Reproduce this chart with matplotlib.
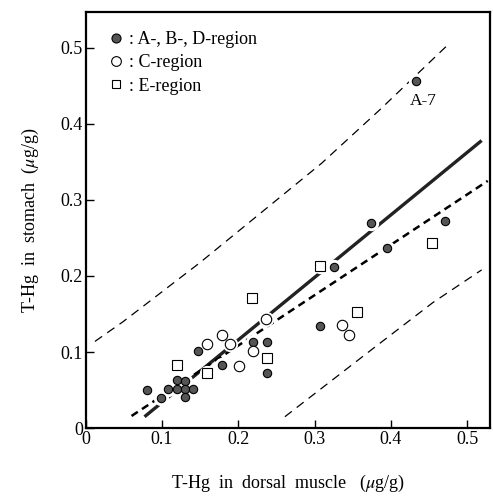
import matplotlib
matplotlib.use("Agg")
import matplotlib.pyplot as plt
from matplotlib.lines import Line2D

plt.rcParams['font.family'] = ['Liberation Serif', 'DejaVu Serif']
plt.rcParams['mathtext.fontset'] = 'stix'

# data (x = dorsal muscle, y = stomach, ug/g)
abd_x = [0.080, 0.099, 0.108, 0.119, 0.119, 0.130, 0.130, 0.130, 0.141, 0.147,
         0.179, 0.219, 0.238, 0.238, 0.307, 0.325, 0.374, 0.395, 0.471, 0.433]
abd_y = [0.050, 0.040, 0.051, 0.051, 0.063, 0.062, 0.052, 0.041, 0.052, 0.101,
         0.083, 0.113, 0.113, 0.073, 0.134, 0.212, 0.269, 0.237, 0.272, 0.456]
c_x = [0.159, 0.179, 0.189, 0.201, 0.219, 0.236, 0.336, 0.345]
c_y = [0.111, 0.122, 0.110, 0.082, 0.102, 0.143, 0.135, 0.123]
e_x = [0.119, 0.159, 0.218, 0.238, 0.307, 0.356, 0.454]
e_y = [0.083, 0.072, 0.171, 0.092, 0.213, 0.153, 0.243]

# regression lines (end points)
solid_x = [0.077, 0.519]
solid_y = [0.015, 0.378]
dash_x = [0.060, 0.527]
dash_y = [0.016, 0.325]
# band curves
up_x = [0.012, 0.049, 0.149, 0.309, 0.385, 0.477]
up_y = [0.114, 0.140, 0.217, 0.348, 0.418, 0.506]
lo_x = [0.261, 0.368, 0.455, 0.519]
lo_y = [0.015, 0.098, 0.165, 0.208]

fig = plt.figure(figsize=(4.93, 4.99), dpi=100)
ax = fig.add_axes([0.174, 0.142, 0.82, 0.834])

ax.plot(up_x, up_y, color='black', lw=0.9, dashes=(7, 5))
ax.plot(lo_x, lo_y, color='black', lw=0.9, dashes=(7, 5))
ax.plot(solid_x, solid_y, color='#222222', lw=2.4, solid_capstyle='butt')
ax.plot(dash_x, dash_y, color='black', lw=1.8, dashes=(3, 2))

# white halo so the lines break around the points
allx = abd_x + c_x + e_x
ally = abd_y + c_y + e_y
ax.plot(allx, ally, 'o', ms=10, color='white', mec='white', zorder=3)

ax.plot(abd_x, abd_y, 'o', ms=6, mfc='#555555', mec='black', mew=0.8, zorder=4)
ax.plot(c_x, c_y, 'o', ms=7.5, mfc='white', mec='black', mew=0.8, zorder=4)
ax.plot(e_x, e_y, 's', ms=6.5, mfc='white', mec='black', mew=0.8, zorder=4)

ax.text(0.442, 0.44, 'A-7', fontsize=12.5, va='top', ha='center')

handles = [
    Line2D([], [], ls='none', marker='o', ms=6.5, mfc='#555555', mec='black', mew=0.8),
    Line2D([], [], ls='none', marker='o', ms=7, mfc='white', mec='black', mew=0.8),
    Line2D([], [], ls='none', marker='s', ms=6, mfc='white', mec='black', mew=0.8),
]
labels = [': A-, B-, D-region', ': C-region', ': E-region']
ax.legend(handles, labels, loc='upper left', frameon=False, fontsize=13,
          handlelength=0.8, handletextpad=0.3, labelspacing=0.35,
          borderaxespad=0.2, bbox_to_anchor=(0.03, 0.98))

ax.set_xlim(0, 0.53)
ax.set_ylim(0, 0.547)
ax.set_xticks([0, 0.1, 0.2, 0.3, 0.4, 0.5])
ax.set_xticklabels(['0', '0.1', '0.2', '0.3', '0.4', '0.5'])
ax.set_yticks([0, 0.1, 0.2, 0.3, 0.4, 0.5])
ax.set_yticklabels(['0', '0.1', '0.2', '0.3', '0.4', '0.5'])
ax.tick_params(direction='in', length=6, width=1, labelsize=13, pad=2)
for s in ax.spines.values():
    s.set_linewidth(1.6)

ax.set_xlabel(r'T-Hg  in  dorsal  muscle   ($\mu$g/g)', fontsize=13, labelpad=18)
ax.set_ylabel(r'T-Hg  in  stomach  ($\mu$g/g)', fontsize=13, labelpad=14)

fig.savefig('out.png', dpi=100)
